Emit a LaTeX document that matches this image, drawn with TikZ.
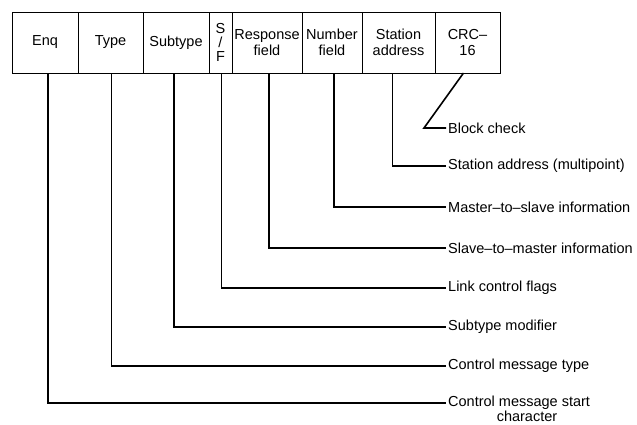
\documentclass[tikz,border=0pt]{standalone}
\usepackage{fontspec}
\setmainfont{Liberation Sans}
\usetikzlibrary{positioning, calc}

\begin{document}
\begin{tikzpicture}[
  x=1pt, y=-1pt,
  field/.style={rectangle, draw, line width=0.9pt, minimum width=#1, minimum height=61pt, inner sep=0pt, outer sep=0pt, align=center, font=\fontsize{14.5}{16.5}\selectfont},
  lbl/.style={anchor=west, inner sep=2pt, font=\fontsize{14.5}{16.5}\selectfont},
  lead/.style={line width=1.6pt},
]
  \useasboundingbox (0,0) rectangle (637,424);

  % frame fields
  \node[field=66pt, anchor=north west] (enq) at (12,12) {Enq};
  \node[field=65pt, right=0pt of enq] (type) {Type};
  \node[field=66pt, right=0pt of type] (sub) {Subtype};
  \node[field=23pt, right=0pt of sub, font=\fontsize{14.5}{14}\selectfont] (sf) {S\\/\\F};
  \node[field=70pt, right=0pt of sf] (resp) {Response\\field};
  \node[field=60pt, right=0pt of resp] (num) {Number\\field};
  \node[field=73pt, right=0pt of num] (stat) {Station\\address};
  \node[field=65pt, right=0pt of stat] (crc) {CRC--\\16};

  % descriptions
  \node[lbl] (lblock) at (446,128) {Block check};
  \node[lbl] (lstat) at (446,166) {Station address (multipoint)};
  \node[lbl] (lmts) at (446,207) {Master--to--slave information};
  \node[lbl] (lstm) at (446,248) {Slave--to--master information};
  \node[lbl] (lflag) at (446,288) {Link control flags};
  \node[lbl] (lsub) at (446,327) {Subtype modifier};
  \node[lbl] (ltype) at (446,366) {Control message type};
  \node[lbl] (lstart) at (446,403) {Control message start};
  \node[inner sep=0pt, font=\fontsize{14.5}{16.5}\selectfont] (lchar) at (527,416) {character};

  \coordinate (kink) at ($(lblock.west)+(-22,0)$);

  % leader lines
  \draw[lead] ([xshift=-4pt]crc.south) -- (kink) -- (lblock.west);
  \draw[lead] ([xshift=-6pt]stat.south) |- (lstat.west);
  \draw[lead] ([xshift=2pt]num.south) |- (lmts.west);
  \draw[lead] ([xshift=2pt]resp.south) |- (lstm.west);
  \draw[lead] ([xshift=1pt]sf.south) |- (lflag.west);
  \draw[lead] ([xshift=-2pt]sub.south) |- (lsub.west);
  \draw[lead] ([xshift=1pt]type.south) |- (ltype.west);
  \draw[lead] ([xshift=3pt]enq.south) |- (lstart.west);
\end{tikzpicture}
\end{document}
